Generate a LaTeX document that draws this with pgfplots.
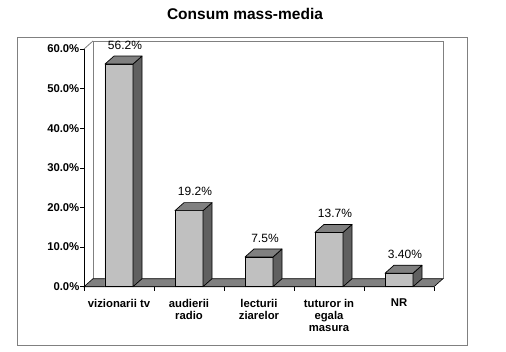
\documentclass[border=0pt]{standalone}
\usepackage{pgfplots}
\usepackage{pgfplotstable}
\pgfplotsset{compat=1.18}
\usepackage{fontspec}
\setmainfont{Liberation Sans}
\definecolor{frontgray}{HTML}{C0C0C0}
\definecolor{topgray}{HTML}{808080}
\definecolor{sidegray}{HTML}{606060}
\definecolor{wallgray}{HTML}{808080}
\newcommand{\yu}{3.9617}
\pgfdeclareplotmark{bar3d}{%
  \pgfmathsetmacro\H{\rawy*\yu}%
  \pgfmathsetmacro\B{8-\H}%
  \filldraw[fill=sidegray, draw=black, line width=0.7pt, line join=round]
     (14pt,0pt) -- (23pt,8pt) -- (23pt,\B pt) -- (14pt,-\H pt) -- cycle;
  \filldraw[fill=topgray, draw=black, line width=0.7pt, line join=round]
     (-14pt,0pt) -- (14pt,0pt) -- (23pt,8pt) -- (-5pt,8pt) -- cycle;
}
\pgfplotstableread{
x y lab
0.5 56.2 56.2
1.5 19.2 19.2
2.5 7.5 7.5
3.5 13.7 13.7
4.5 3.4 3.40
}\datatbl
\begin{document}
\begin{tikzpicture}
\useasboundingbox (0,0) rectangle (506pt,351pt);
\begin{axis}[
  at={(84pt,64.3pt)}, anchor=south west,
  scale only axis, width=350pt, height=237.7pt,
  xmin=0, xmax=5, ymin=0, ymax=60, enlargelimits=false,
  clip=false,
  separate axis lines,
  axis x line*=bottom, axis y line*=left,
  axis line style={-, black, line width=0.7pt},
  tick align=outside,
  xtick={0.5,1.5,2.5,3.5,4.5},
  xticklabels={vizionarii tv,{audierii\\radio},{lecturii\\ziarelor},{tuturor in\\egala\\masura},NR},
  major x tick style={draw=none},
  minor xtick={0,1,2,3,4,5},
  minor tick length=4pt,
  major tick length=3.5pt,
  tick style={black, line width=0.7pt},
  xticklabel style={font=\fontsize{11.3}{12.2}\selectfont\bfseries, align=center, anchor=north, inner sep=0pt, yshift=-8.5pt},
  ytick={0,10,20,30,40,50,60},
  yticklabels={0.0\%,10.0\%,20.0\%,30.0\%,40.0\%,50.0\%,60.0\%},
  yticklabel style={font=\fontsize{11.3}{12}\selectfont\bfseries, anchor=east, inner sep=0pt, xshift=-1pt},
  /pgf/number format/assume math mode=true,
  title={Consum mass-media},
  title style={font=\fontsize{15.5}{18}\selectfont\bfseries, at={(0.46,1)}, anchor=center, yshift=29pt},
]
% back wall
\draw[wallgray, line width=0.8pt] ([shift={(9pt,8pt)}]axis cs:0,0) -- ([shift={(9pt,8pt)}]axis cs:0,60) -- ([shift={(9pt,8pt)}]axis cs:5,60) -- ([shift={(9pt,8pt)}]axis cs:5,0);
\draw[wallgray, line width=0.8pt] (axis cs:0,60) -- ([shift={(9pt,8pt)}]axis cs:0,60);
% floor
\filldraw[fill=wallgray, draw=black, line width=0.6pt] (axis cs:0,0) -- (axis cs:5,0) -- ([shift={(9pt,8pt)}]axis cs:5,0) -- ([shift={(9pt,8pt)}]axis cs:0,0) -- cycle;
% bars front
\addplot[ybar, bar width=28pt, bar shift=0pt, fill=frontgray, draw=black, line width=0.7pt,
  point meta=explicit symbolic,
  nodes near coords={\pgfplotspointmeta\%},
  every node near coord/.append style={font=\fontsize{12}{13}\selectfont, anchor=center, xshift=6pt, yshift=19pt, black}]
  table[x=x, y=y, meta=lab]{\datatbl};
% bars side and top
\addplot[only marks, mark=bar3d, visualization depends on={y \as \rawy}]
  table[x=x, y=y]{\datatbl};
\end{axis}
\draw[wallgray, line width=1pt] (17pt,6pt) rectangle (467pt,313.7pt);
\end{tikzpicture}
\end{document}
